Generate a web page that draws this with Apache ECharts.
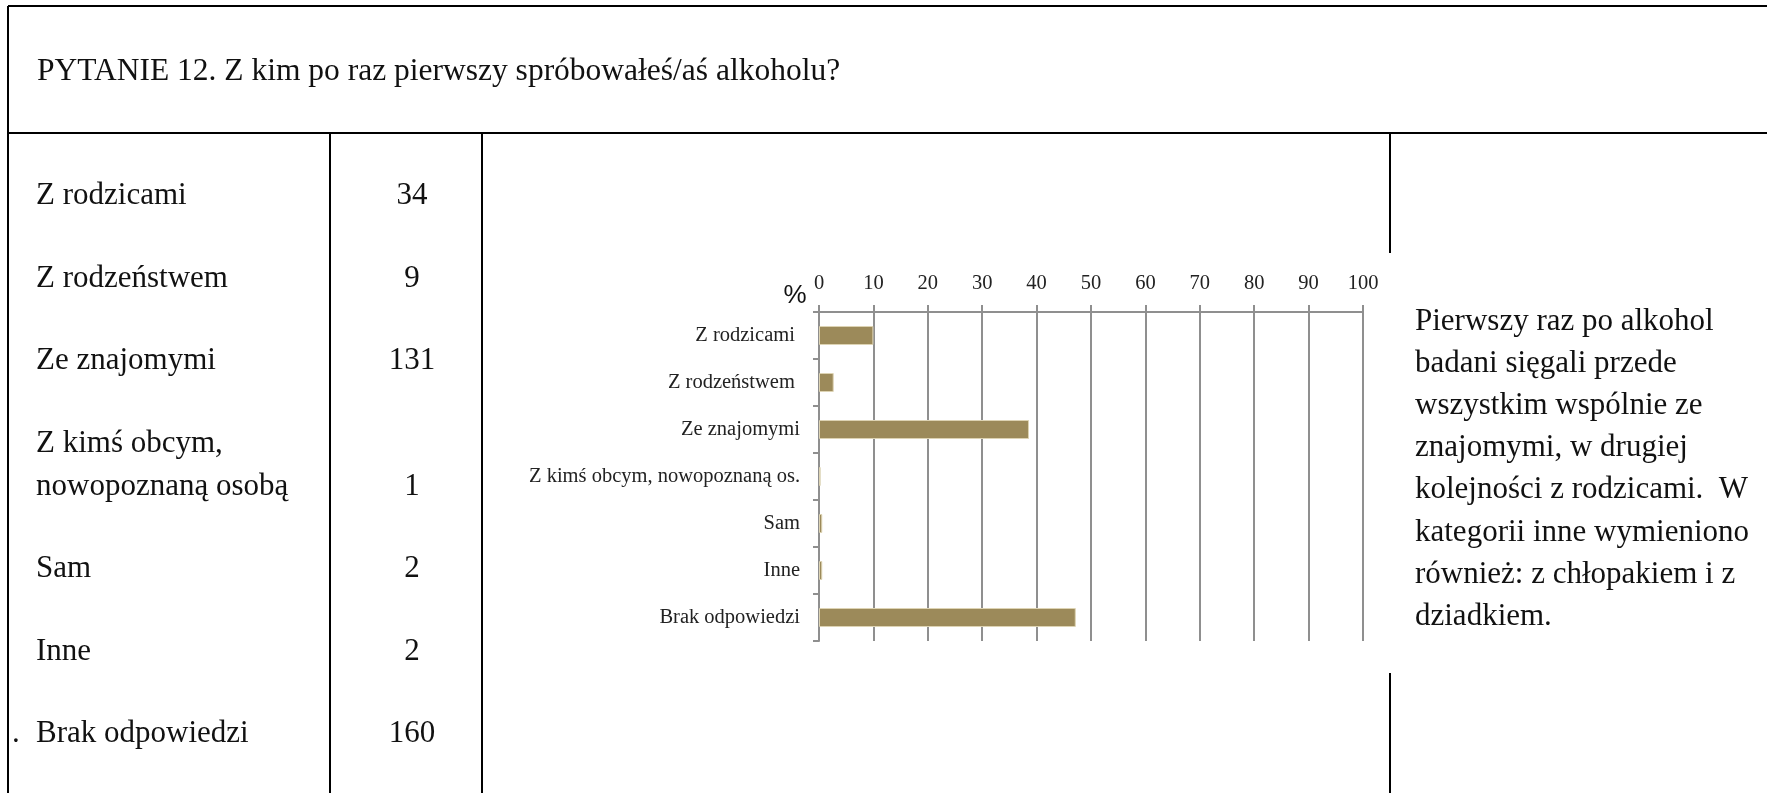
<!DOCTYPE html>
<html>
<head>
<meta charset="utf-8">
<script src="https://cdn.jsdelivr.net/npm/echarts@6/dist/echarts.min.js"></script>
<style>
  html, body { margin: 0; padding: 0; background: #fff; }
  #chart { width: 1767px; height: 793px; }
</style>
</head>
<body>
<div id="chart"></div>
<script>
// Survey question 12: who the respondents first tried alcohol with.
const questionTitle = 'PYTANIE 12. Z kim po raz pierwszy spróbowałeś/aś alkoholu?';

// Table on the left: answers and number of respondents.
const answerLabels = [
  'Z rodzicami',
  'Z rodzeństwem',
  'Ze znajomymi',
  'Z kimś obcym,\nnowopoznaną osobą',
  'Sam',
  'Inne',
  'Brak odpowiedzi'
];
const answerCounts = [34, 9, 131, 1, 2, 2, 160];

// Bar chart: the same answers as a share of all respondents (%).
const chartCategories = [
  'Z rodzicami ',
  'Z rodzeństwem ',
  'Ze znajomymi',
  'Z kimś obcym, nowopoznaną os.',
  'Sam',
  'Inne',
  'Brak odpowiedzi'
];
const chartPercents = [10.0, 2.7, 38.6, 0.3, 0.6, 0.6, 47.2];

// Commentary in the right-hand column.
const commentLines = [
  'Pierwszy raz po alkohol',
  'badani sięgali przede',
  'wszystkim wspólnie ze',
  'znajomymi, w drugiej',
  'kolejności z rodzicami.  W',
  'kategorii inne wymieniono',
  'również: z chłopakiem i z',
  'dziadkiem.'
];

// ---- layout ----
const W = 1767, H = 793;
const FRAME_X = 8, FRAME_TOP = 6, HEAD_Y = 133;
const COL1 = 330, COL2 = 482, COL3 = 1390;
const CHART_BOX_TOP = 253, CHART_BOX_BOTTOM = 673;
const ROW_Y0 = 196, ROW_PITCH = 82.5, LINE_H = 43;
const SERIF = '"Liberation Serif", "DejaVu Serif", serif';
const BODY_FONT = '31px ' + SERIF;
const RULE = { stroke: '#000', lineWidth: 2 };
const GRAY = '#8f8f8f';

const graphics = [];
function rule(x1, y1, x2, y2) {
  graphics.push({ type: 'line', shape: { x1, y1, x2, y2 }, style: RULE, silent: true });
}
function label(text, x, y, align, font) {
  graphics.push({
    type: 'text', x, y, silent: true,
    style: { text, font: font || BODY_FONT, fill: '#111', textAlign: align || 'left', textVerticalAlign: 'middle' }
  });
}

// table frame
rule(FRAME_X, FRAME_TOP, W, FRAME_TOP);
rule(FRAME_X, FRAME_TOP, FRAME_X, H);
rule(FRAME_X, HEAD_Y, W, HEAD_Y);
rule(COL1, HEAD_Y, COL1, H);
rule(COL2, HEAD_Y, COL2, H);
rule(COL3, HEAD_Y, COL3, CHART_BOX_TOP);
rule(COL3, CHART_BOX_BOTTOM, COL3, H);

// heading
label(questionTitle, 37, 72, 'left', '31.5px ' + SERIF);

// answer rows with counts
let rowY = ROW_Y0;
answerLabels.forEach((text, i) => {
  const lines = text.split('\n');
  lines.forEach((ln, j) => label(ln, 36, rowY + j * LINE_H));
  const lastY = rowY + (lines.length - 1) * LINE_H;
  label(String(answerCounts[i]), 412, lastY, 'center');
  if (i === answerLabels.length - 1) label('.', 12, lastY);
  rowY = lastY + ROW_PITCH;
});

// commentary
commentLines.forEach((ln, i) => label(ln, 1415, 321.5 + i * 42.2));

// unit marker of the value axis
label('%', 795, 296, 'center', '26px "Liberation Sans", Arial, sans-serif');

const chart = echarts.init(document.getElementById('chart'), null, { renderer: 'canvas' });
chart.setOption({
  backgroundColor: '#fff',
  animation: false,
  grid: { left: 819, top: 312, width: 544, height: 329, containLabel: false, outerBoundsMode: 'none' },
  xAxis: {
    type: 'value',
    position: 'top',
    min: 0, max: 100, interval: 10,
    axisLine: { show: true, lineStyle: { color: GRAY, width: 2 } },
    axisTick: { show: true, length: 7, lineStyle: { color: GRAY, width: 2 } },
    axisLabel: { margin: 18, fontSize: 20.5, fontFamily: SERIF, color: '#222' },
    splitLine: { show: true, lineStyle: { color: GRAY, width: 2 } }
  },
  yAxis: {
    type: 'category',
    inverse: true,
    data: chartCategories,
    axisLine: { show: true, lineStyle: { color: GRAY, width: 2 } },
    axisTick: { show: true, length: 6, lineStyle: { color: GRAY, width: 2 } },
    axisLabel: { margin: 19, fontSize: 20.5, fontFamily: SERIF, color: '#222' },
    splitLine: { show: false }
  },
  series: [{
    type: 'bar',
    data: chartPercents,
    barWidth: 19,
    itemStyle: { color: '#9c8a5a', borderColor: '#ddd3b3', borderWidth: 1 }
  }],
  graphic: graphics
});
</script>
</body>
</html>
